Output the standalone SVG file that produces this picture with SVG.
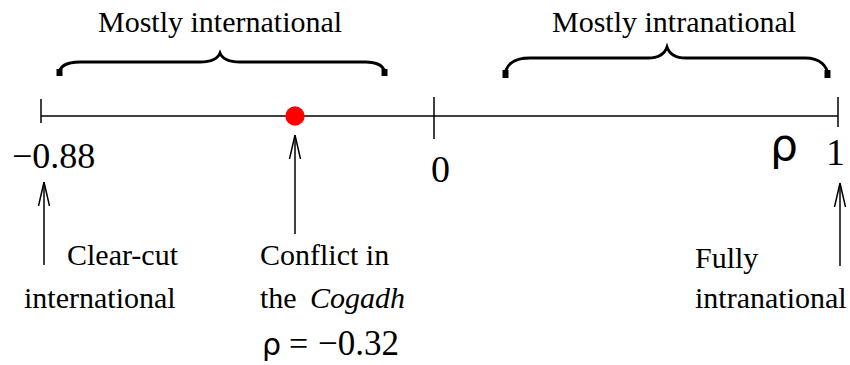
<svg xmlns="http://www.w3.org/2000/svg" width="850" height="365" viewBox="0 0 850 365">
<style>
.t{font-family:"Liberation Serif","Times New Roman",serif;font-size:30px;fill:#000}
.num{font-family:"Liberation Serif","Times New Roman",serif;fill:#000}
.rho{font-family:"DejaVu Sans","Liberation Sans",sans-serif;fill:#000}
.ln{stroke:#000;stroke-width:1.5;fill:none}
.br{stroke:#000;stroke-width:2.8;fill:none}
.cap{stroke:#000;stroke-width:6;fill:none}
</style>
<defs>
<marker id="ah" viewBox="0 0 24 14" refX="24" refY="7" markerWidth="24" markerHeight="14" markerUnits="userSpaceOnUse" orient="auto">
<path d="M0,1.5 L24,7 L0,12.5" fill="none" stroke="#000" stroke-width="1.5"/>
</marker>
</defs>
<rect width="850" height="365" fill="#fff"/>
<g id="axis">
<line class="ln" x1="41" y1="116" x2="838" y2="116"/>
<line class="ln" x1="41" y1="99" x2="41" y2="123"/>
<line class="ln" x1="434" y1="97" x2="434" y2="139"/>
<line class="ln" x1="838" y1="97" x2="838" y2="127"/>
</g>
<g id="brace-international">
<path class="br" d="M59,75 C59,66 66,62 80,62 L200,62 C212,62 218,58 220,53 C222,58 228,62 240,62 L365,62 C378,62 385,66 385,75"/>
<path class="cap" d="M59.5,69 L59.5,76"/>
<path class="cap" d="M384.5,69 L384.5,76"/>
<text class="t" x="98" y="32">Mostly international</text>
</g>
<g id="brace-intranational">
<path class="br" d="M505,77 C505,66 512,58 530,58 L648,58 C660,58 665,53 667,47 C669,53 674,58 686,58 L805,58 C820,58 828,66 828,77"/>
<path class="cap" d="M505.5,70 L505.5,78"/>
<path class="cap" d="M827.5,70 L827.5,78"/>
<text class="t" x="552" y="32">Mostly intranational</text>
</g>
<g id="dot">
<circle cx="295" cy="116" r="9.7" fill="#f00"/>
</g>
<g id="labels-axis">
<text class="num" x="12" y="168" font-size="36">−0.88</text>
<text class="num" x="431" y="182" font-size="38">0</text>
<text class="rho" x="770" y="160" font-size="44">ρ</text>
<text class="num" x="826" y="165" font-size="38">1</text>
</g>
<g id="connectors">
<line class="ln" x1="44" y1="265" x2="44" y2="182" marker-end="url(#ah)"/>
<line class="ln" x1="295" y1="234" x2="295" y2="135" marker-end="url(#ah)"/>
<line class="ln" x1="840" y1="266" x2="840" y2="183" marker-end="url(#ah)"/>
</g>
<g id="clear-cut">
<text class="t" x="67" y="265">Clear-cut</text>
<text class="t" x="24" y="308">international</text>
</g>
<g id="conflict">
<text class="t" x="260" y="265">Conflict in</text>
<text class="t" x="260" y="308">the<tspan x="310" font-style="italic">Cogadh</tspan></text>
<text class="rho" x="262" y="355" font-size="30">ρ</text>
<text class="num" x="289" y="355" font-size="34">=</text>
<text class="num" x="318" y="355" font-size="35">−0.32</text>
</g>
<g id="fully">
<text class="t" x="695" y="268">Fully</text>
<text class="t" x="695" y="308">intranational</text>
</g>
</svg>
